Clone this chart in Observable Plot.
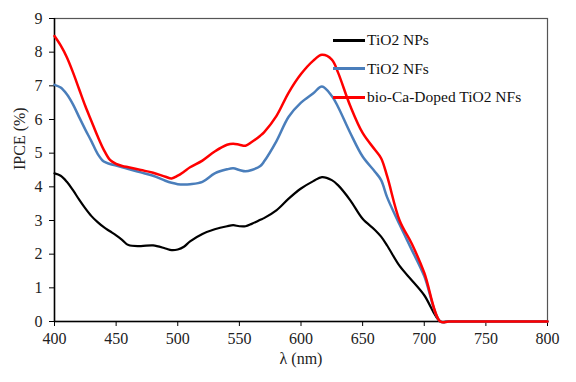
<!DOCTYPE html>
<html>
<head>
<meta charset="utf-8">
<script src="https://cdn.jsdelivr.net/npm/d3@7"></script>
<script src="https://cdn.jsdelivr.net/npm/@observablehq/plot@0.6"></script>
<style>
  html, body { margin: 0; padding: 0; background: #fff; }
  #wrap { position: relative; width: 576px; height: 382px; }
  #legend { position: absolute; left: 333px; top: 26px; font-family: "Liberation Serif", serif; font-size: 15.5px; color: #111; }
  .row { display: flex; align-items: center; height: 28.5px; }
  .sw { width: 32px; height: 0; border-top-style: solid; margin-right: 2px; }
</style>
</head>
<body>
<div id="wrap"><div id="legend"></div></div>
<script>
const wavelength = [400,405,410,415,420,425,430,435,440,445,450,455,460,470,480,490,495,500,505,510,520,530,540,545,550,555,560,567,570,580,590,600,610,617,625,630,640,650,660,665,670,680,690,700,713,720,740,760,780,800];
const tio2NPs = [4.40,4.33,4.15,3.90,3.62,3.36,3.13,2.95,2.80,2.68,2.56,2.42,2.27,2.24,2.26,2.17,2.12,2.14,2.22,2.38,2.60,2.74,2.83,2.86,2.83,2.83,2.90,3.02,3.07,3.30,3.65,3.95,4.17,4.29,4.20,4.05,3.60,3.05,2.72,2.52,2.25,1.65,1.22,0.78,0,0,0,0,0,0];
const tio2NFs = [7.03,6.95,6.75,6.45,6.07,5.70,5.35,4.98,4.75,4.68,4.63,4.58,4.53,4.43,4.33,4.18,4.12,4.08,4.07,4.08,4.15,4.40,4.52,4.55,4.50,4.46,4.50,4.62,4.75,5.35,6.08,6.50,6.78,6.98,6.70,6.38,5.60,4.90,4.45,4.20,3.68,2.88,2.12,1.35,0,0,0,0,0,0];
const dopedNFs = [8.48,8.20,7.85,7.40,6.90,6.40,5.95,5.50,5.10,4.80,4.68,4.62,4.58,4.50,4.42,4.30,4.25,4.33,4.45,4.58,4.78,5.05,5.25,5.28,5.25,5.22,5.33,5.52,5.62,6.10,6.80,7.35,7.75,7.92,7.78,7.40,6.40,5.60,5.10,4.85,4.30,3.00,2.30,1.45,0,0,0,0,0,0];
const seriesNames = ["TiO2 NPs", "TiO2 NFs", "bio-Ca-Doped TiO2 NFs"];
const seriesColors = ["#000000", "#4a7ebb", "#ff0000"];
const xTicks = [400,450,500,550,600,650,700,750,800];
const yTicks = [0,1,2,3,4,5,6,7,8,9];
const xTitle = "λ (nm)";
const yTitle = "IPCE (%)";

const toRows = vals => wavelength.map((w, i) => ({x: w, y: vals[i]}));
const widths = [2.2, 2.5, 2.5];

const chart = Plot.plot({
  width: 576, height: 382,
  marginLeft: 54, marginRight: 29, marginTop: 18, marginBottom: 61,
  style: {fontFamily: "Liberation Serif, serif", fontSize: "16px", color: "#222", background: "white", overflow: "visible"},
  x: {domain: [400, 800], label: null},
  y: {domain: [0, 9], label: null},
  marks: [
    Plot.frame({stroke: "#555", strokeWidth: 1.2}),
    Plot.axisX({ticks: xTicks, tickSize: 5, tickPadding: 6, label: null, fontSize: 16, stroke: "#000"}),
    Plot.axisY({ticks: yTicks, tickSize: 5, tickPadding: 7, label: null, fontSize: 16, stroke: "#000"}),
    Plot.ruleY([0], {stroke: "#000", strokeWidth: 1.5}),
    Plot.ruleX([400], {stroke: "#000", strokeWidth: 1.5}),
    ...[tio2NPs, tio2NFs, dopedNFs].map((vals, i) =>
      Plot.line(toRows(vals), {x: "x", y: "y", stroke: seriesColors[i], strokeWidth: widths[i], curve: "catmull-rom"})),
    Plot.text([xTitle], {frameAnchor: "bottom", dy: 42, fontSize: 16, fill: "#222"}),
    Plot.text([yTitle], {frameAnchor: "left", rotate: -90, dx: -35, fontSize: 16, fill: "#222"})
  ]
});
document.getElementById("wrap").prepend(chart);

const legend = document.getElementById("legend");
seriesNames.forEach((name, i) => {
  const row = document.createElement("div");
  row.className = "row";
  const sw = document.createElement("div");
  sw.className = "sw";
  sw.style.borderTopColor = seriesColors[i];
  sw.style.borderTopWidth = "3px";
  const t = document.createElement("span");
  t.textContent = name;
  row.appendChild(sw); row.appendChild(t);
  legend.appendChild(row);
});
</script>
</body>
</html>
